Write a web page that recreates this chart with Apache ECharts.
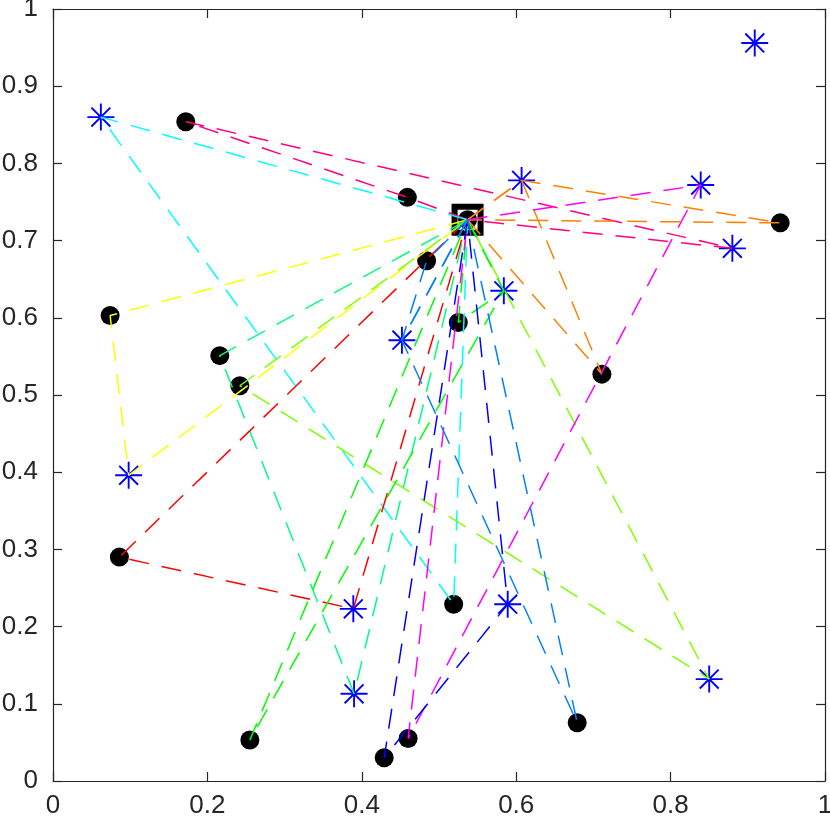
<!DOCTYPE html>
<html>
<head>
<meta charset="utf-8">
<script src="https://cdn.jsdelivr.net/npm/echarts@6/dist/echarts.min.js"></script>
<style>
  html, body { margin: 0; padding: 0; background: #fff; }
  #chart { width: 830px; height: 827px; }
</style>
</head>
<body>
<div id="chart"></div>
<script>
// depot and customer locations
var depot = [0.537, 0.727];

var circleXY = [
  [0.172, 0.854], [0.459, 0.756], [0.484, 0.674], [0.074, 0.603],
  [0.216, 0.551], [0.242, 0.512], [0.525, 0.594], [0.711, 0.527],
  [0.942, 0.723], [0.086, 0.290], [0.519, 0.229], [0.255, 0.053],
  [0.429, 0.030], [0.460, 0.055], [0.679, 0.0755]
];

var starXY = [
  [0.062, 0.860], [0.607, 0.778], [0.839, 0.772], [0.880, 0.690],
  [0.909, 0.956], [0.584, 0.635], [0.452, 0.571], [0.098, 0.396],
  [0.389, 0.223], [0.390, 0.113], [0.589, 0.229], [0.850, 0.132]
];

// routes: D = depot, C# = circle, S# = star (1-based)
var routes = [
  ['D', 'C2', 'C1', 'S4', 'D'],
  ['D', 'S1', 'C11', 'D'],
  ['D', 'C4', 'S8', 'D'],
  ['D', 'C5', 'S10', 'D'],
  ['D', 'C6', 'S12', 'D'],
  ['D', 'C10', 'S9', 'D'],
  ['D', 'S6', 'C7', 'D'],
  ['D', 'S6', 'C12', 'D'],
  ['D', 'S2', 'C9', 'D'],
  ['D', 'S2', 'C8', 'D'],
  ['D', 'S3', 'C14', 'D'],
  ['D', 'C13', 'S11', 'D'],
  ['D', 'S7', 'C3', 'D'],
  ['D', 'S7', 'C15', 'D']
];

var routeColors = ['#ff0080', '#00ffff', '#ffff00', '#00ff80', '#80ff00', '#ff0000',
  '#00ff00', '#00ff00', '#ff8000', '#ff8000', '#ff00ff', '#0000ff', '#0080ff', '#0080ff'];

function pt(id) {
  if (id === 'D') return depot;
  var n = parseInt(id.slice(1), 10) - 1;
  return id[0] === 'C' ? circleXY[n] : starXY[n];
}

var starPath = 'path://M0 46.5H100V53.5H0Z M46.5 0H53.5V100H46.5Z M12.5 17.5L17.5 12.5L87.5 82.5L82.5 87.5Z M82.5 12.5L87.5 17.5L17.5 87.5L12.5 82.5Z';
var ink = '#262626';
var font = 'Liberation Sans, Arial, Helvetica, sans-serif';

var myChart = echarts.init(document.getElementById('chart'));

function xAxisDef(pos, labels) {
  return {
    type: 'value', position: pos, min: 0, max: 1, interval: 0.2,
    axisLine: { show: true, onZero: false, lineStyle: { color: ink, width: 1.2 } },
    axisTick: { show: true, inside: true, length: 9, lineStyle: { color: ink, width: 1.2 } },
    axisLabel: { show: labels, margin: 12, color: ink, fontSize: 26, fontFamily: font },
    splitLine: { show: false }
  };
}
function yAxisDef(pos, labels) {
  return {
    type: 'value', position: pos, min: 0, max: 1, interval: 0.1,
    axisLine: { show: true, onZero: false, lineStyle: { color: ink, width: 1.2 } },
    axisTick: { show: true, inside: true, length: 9, lineStyle: { color: ink, width: 1.2 } },
    axisLabel: { show: labels, margin: 15, color: ink, fontSize: 26, fontFamily: font },
    splitLine: { show: false }
  };
}

var series = [];

series.push({
  type: 'scatter', z: 2, symbol: 'rect', symbolSize: 26,
  itemStyle: { color: 'rgba(0,0,0,0)', borderColor: '#000', borderWidth: 6, opacity: 1 },
  data: [depot], silent: true
});
series.push({
  type: 'scatter', z: 2, symbol: 'circle', symbolSize: 19,
  itemStyle: { color: '#000', opacity: 1 },
  data: circleXY.concat([depot]), silent: true
});
series.push({
  type: 'scatter', z: 2, symbol: starPath, symbolSize: 27,
  itemStyle: { color: '#0000ff', opacity: 1 },
  data: starXY, silent: true
});

routes.forEach(function (r, i) {
  series.push({
    type: 'line', z: 3,
    showSymbol: false, symbol: 'none', silent: true,
    lineStyle: { color: routeColors[i], width: 1.5, type: [20, 13], opacity: 1 },
    data: r.map(pt)
  });
});

var option = {
  animation: false,
  backgroundColor: '#fff',
  grid: { left: 53, right: 5, top: 9, bottom: 46, outerBoundsMode: 'none', containLabel: false },
  xAxis: [xAxisDef('bottom', true), xAxisDef('top', false)],
  yAxis: [yAxisDef('left', true), yAxisDef('right', false)],
  series: series
};

myChart.setOption(option);
</script>
</body>
</html>
